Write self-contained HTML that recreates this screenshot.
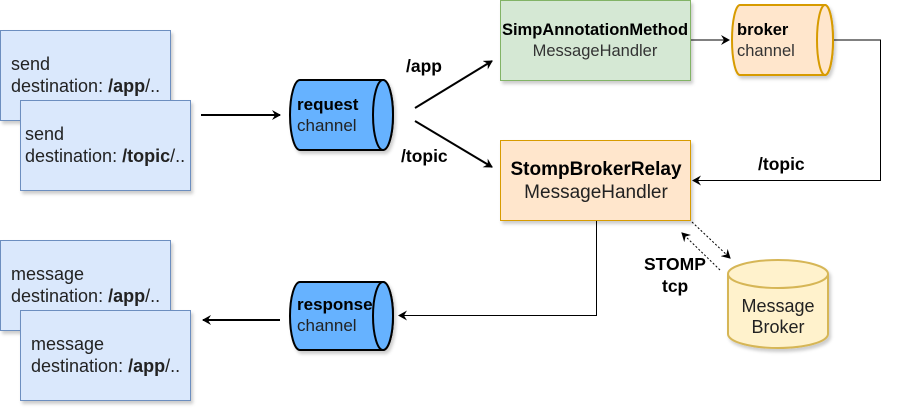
<!DOCTYPE html>
<html><head><meta charset="utf-8"><style>
body{margin:0;background:#fff;}
svg text{font-family:"Liberation Sans",sans-serif;}
</style></head><body>
<svg width="900" height="412" viewBox="0 0 900 412" xmlns="http://www.w3.org/2000/svg">
<defs>
<marker id="a" markerWidth="10" markerHeight="10" refX="8" refY="5" orient="auto" markerUnits="userSpaceOnUse"><path d="M0,0 L9,5 L0,10 L3,5 Z" fill="#000"/></marker>
<filter id="s" x="-10%" y="-10%" width="130%" height="130%"><feDropShadow dx="2" dy="3" stdDeviation="1.5" flood-color="#000" flood-opacity="0.2"/></filter>
</defs>
<g font-size="18" fill="#222">
<rect x="0.5" y="30.5" width="170" height="90" fill="#dae8fc" stroke="#6c8ebf" filter="url(#s)"/>
<text x="11" y="70">send</text>
<text x="11" y="92">destination: <tspan font-weight="bold">/app</tspan>/..</text>
<rect x="20.5" y="100.5" width="170" height="90" fill="#dae8fc" stroke="#6c8ebf" filter="url(#s)"/>
<text x="25" y="140">send</text>
<text x="25" y="162">destination: <tspan font-weight="bold">/topic</tspan>/..</text>
<rect x="0.5" y="240.5" width="170" height="90" fill="#dae8fc" stroke="#6c8ebf" filter="url(#s)"/>
<text x="11" y="280">message</text>
<text x="11" y="302">destination: <tspan font-weight="bold">/app</tspan>/..</text>
<rect x="20.5" y="310.5" width="170" height="90" fill="#dae8fc" stroke="#6c8ebf" filter="url(#s)"/>
<text x="31" y="350">message</text>
<text x="31" y="372">destination: <tspan font-weight="bold">/app</tspan>/..</text>
</g>
<g stroke="#000" stroke-width="2" filter="url(#s)">
<path d="M300,80 H383 A10,35 0 0 1 383,150 H300 A10,35 0 0 1 300,80 Z" fill="#66b2ff"/>
<ellipse cx="383" cy="115" rx="10" ry="35" fill="#66b2ff"/>
<path d="M300,282 H383 A10,34 0 0 1 383,350 H300 A10,34 0 0 1 300,282 Z" fill="#66b2ff"/>
<ellipse cx="383" cy="316" rx="10" ry="34" fill="#66b2ff"/>
</g>
<text x="297" y="110" font-size="17" font-weight="bold">request</text>
<text x="297" y="131" font-size="17" fill="#222">channel</text>
<text x="297" y="310" font-size="17" font-weight="bold">response</text>
<text x="297" y="331" font-size="17" fill="#222">channel</text>
<g stroke="#d79b00" stroke-width="2" filter="url(#s)">
<path d="M740,5 H825 A8,35 0 0 1 825,75 H740 A8,35 0 0 1 740,5 Z" fill="#ffe6cc"/>
<ellipse cx="825" cy="40" rx="8" ry="35" fill="#ffe6cc"/>
</g>
<text x="737" y="35" font-size="16.5" font-weight="bold">broker</text>
<text x="737" y="56" font-size="16.5" fill="#333">channel</text>
<rect x="500.5" y="0.5" width="190" height="80" fill="#d5e8d4" stroke="#82b366" filter="url(#s)"/>
<text x="595" y="35" font-size="16.5" font-weight="bold" text-anchor="middle">SimpAnnotationMethod</text>
<text x="595" y="56" font-size="16.5" fill="#333" text-anchor="middle">MessageHandler</text>
<rect x="500.5" y="140.5" width="190" height="80" fill="#ffe6cc" stroke="#d79b00" filter="url(#s)"/>
<text x="596" y="175" font-size="19" font-weight="bold" text-anchor="middle">StompBrokerRelay</text>
<text x="596" y="198" font-size="19" fill="#222" text-anchor="middle">MessageHandler</text>
<g stroke="#d6b656" stroke-width="2" filter="url(#s)">
<path d="M728,274 V334 A50,14 0 0 0 828,334 V274" fill="#fff2cc"/>
<ellipse cx="778" cy="274" rx="50" ry="14" fill="#fff2cc"/>
</g>
<text x="778" y="312" font-size="18" fill="#222" text-anchor="middle">Message</text>
<text x="778" y="333" font-size="18" fill="#222" text-anchor="middle">Broker</text>
<g stroke="#000" fill="none">
<line x1="201" y1="115" x2="280" y2="115" stroke-width="2" marker-end="url(#a)"/>
<line x1="415" y1="108" x2="492" y2="61" stroke-width="2" marker-end="url(#a)"/>
<line x1="415" y1="121" x2="492" y2="167" stroke-width="2" marker-end="url(#a)"/>
<line x1="691" y1="40" x2="729" y2="40" marker-end="url(#a)"/>
<polyline points="834,40 880.5,40 880.5,180.5 693,180.5" marker-end="url(#a)"/>
<polyline points="596.5,221 596.5,315.5 399,315.5" marker-end="url(#a)"/>
<line x1="280" y1="320" x2="203" y2="320" stroke-width="2" marker-end="url(#a)"/>
<line x1="692" y1="222" x2="730" y2="258" stroke-dasharray="2,2" marker-end="url(#a)"/>
<line x1="720" y1="270" x2="682" y2="233" stroke-dasharray="2,2" marker-end="url(#a)"/>
</g>
<g font-size="17.5" font-weight="bold">
<text x="406" y="72">/app</text>
<text x="401" y="162">/topic</text>
<text x="758" y="170">/topic</text>
<text x="644" y="270">STOMP</text>
<text x="662" y="292">tcp</text>
</g>
</svg>
</body></html>
